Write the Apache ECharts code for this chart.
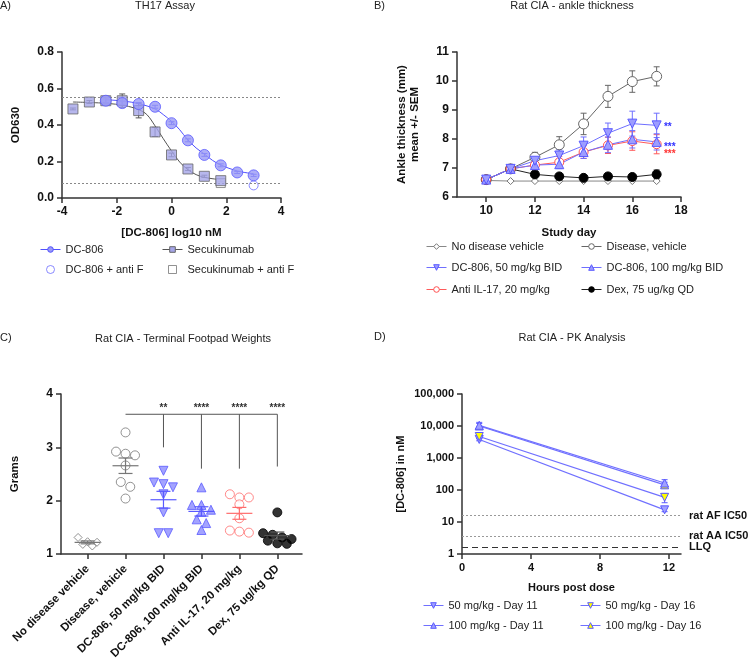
<!DOCTYPE html>
<html><head><meta charset="utf-8">
<script src="https://cdn.jsdelivr.net/npm/echarts@6/dist/echarts.min.js"></script>
<style>html,body{margin:0;padding:0;background:#fff}#c{width:750px;height:665px}</style>
</head><body><div id="c"></div>
<script>
// ---------- Panel A: TH17 Assay ----------
const aDcX = [-2.4,-1.8,-1.2,-0.6,0,0.6,1.2,1.8,2.4,3.0];
const aDcY = [0.533,0.52,0.515,0.50,0.41,0.316,0.236,0.179,0.14,0.124];
const aDcErr = [0.01,0.01,0.008,0.008,0.008,0.008,0.008,0.008,0.006,0.006];
const aSecX = [-3.6,-3.0,-2.4,-1.8,-1.2,-0.6,0,0.6,1.2,1.8];
const aSecY = [0.488,0.526,0.533,0.533,0.479,0.362,0.236,0.159,0.119,0.095];
const aSecErr = [0.005,0.008,0.018,0.037,0.04,0.025,0.01,0.008,0.006,0.006];
const aDcFitX = [-2.4,-1.7,-1.2,-0.6,-0.3,0,0.3,0.57,0.9,1.2,1.5,1.8,2.4,3.0];
const aDcFitY = [0.539,0.53,0.517,0.488,0.457,0.42,0.374,0.323,0.274,0.241,0.206,0.181,0.148,0.133];
const aSecFitX = [-3.6,-2.4,-1.7,-1.2,-0.9,-0.6,-0.3,0,0.3,0.6,0.9,1.2,1.8];
const aSecFitY = [0.526,0.519,0.506,0.484,0.457,0.395,0.325,0.258,0.197,0.155,0.128,0.113,0.1];
const aDcAntiFX = [3.0], aDcAntiFY = [0.069];
const aSecAntiFX = [1.8], aSecAntiFY = [0.082];
const aRefLines = [0.551, 0.077];
const aXTicks = [-4,-2,0,2,4];

// ---------- Panel B: ankle thickness ----------
const bDays = [10,11,12,13,14,15,16,17];
const bNoDis = [6.57,6.55,6.55,6.55,6.55,6.55,6.55,6.55];
const bNoDisErr = [0,0,0,0,0,0,0,0];
const bDis = [6.6,6.97,7.37,7.8,8.52,9.47,9.98,10.16];
const bDisErr = [0,0.05,0.17,0.28,0.37,0.38,0.37,0.33];
const bDc50 = [6.6,6.97,7.25,7.43,7.77,8.2,8.53,8.47];
const bDc50Err = [0,0.05,0.1,0.2,0.3,0.35,0.43,0.42];
const bDc100 = [6.6,6.97,7.1,7.13,7.55,7.8,7.99,7.9];
const bDc100Err = [0,0.05,0.1,0.15,0.22,0.27,0.3,0.28];
const bAnti = [6.6,6.97,7.1,7.2,7.55,7.78,7.93,7.82];
const bAntiErr = [0,0.05,0.1,0.2,0.22,0.28,0.32,0.33];
const bDex = [6.6,6.97,6.78,6.71,6.66,6.71,6.69,6.78];
const bDexErr = [0,0.03,0.05,0.05,0.04,0.05,0.05,0.15];
const bStarText = ['**','***','***'];
const bStarY = [8.42,7.7,7.46];
const bStarColors = ['#3333ff','#3333ff','#ff3333'];
const bStarX = 17.3;
const bXTicks = [10,12,14,16,18];

// ---------- Panel C: footpad weights ----------
const cCats = ['No disease vehicle','Disease, vehicle','DC-806, 50 mg/kg BID','DC-806, 100 mg/kg BID','Anti IL-17, 20 mg/kg','Dex, 75 ug/kg QD'];
const cNoDis = [1.15,1.22,1.23,1.31,1.18];
const cDis = [3.28,2.92,2.88,2.85,2.66,2.35,2.26,2.04];
const cDc50 = [2.56,2.34,2.31,2.25,2.12,1.78,1.39,1.39];
const cDc100 = [2.25,1.92,1.92,1.83,1.79,1.65,1.58,1.45];
const cAnti = [2.12,2.06,2.06,1.93,1.67,1.44,1.42,1.40];
const cDex = [1.78,1.39,1.36,1.31,1.28,1.25,1.20,1.19];
const cSigLabels = ['**','****','****','****'];
const cSigGroups = [2,3,4,5];
const cSigDrop = [3.0,2.6,2.6,2.64];
const cSigTop = 3.62;
const cSigFrom = 1;

// ---------- Panel D: PK ----------
const dHours = [1, 11.75];
const d50Day11 = [3800, 24];   const d50Day11Err = [350, 3];
const d50Day16 = [4700, 59];   const d50Day16Err = [700, 19];
const d100Day11 = [10500, 165]; const d100Day11Err = [2500, 45];
const d100Day16 = [10000, 145]; const d100Day16Err = [2000, 30];
const dRefVals = [15.8, 3.7, 1.6];
const dRefLabels = ['rat AF IC50','rat AA IC50','LLQ'];
const dXTicks = [0,4,8,12];

// ================= rendering =================
const FONT = '"Liberation Sans", Arial, sans-serif';
const AX = '#333';
function axis(o) {
  const base = {
    type:'value', splitLine:{show:false},
    axisLine:{show:true, onZero:false, lineStyle:{color:AX, width:1.5}},
    axisTick:{show:true, length:5, lineStyle:{color:AX, width:1.5}},
    axisLabel:{color:'#111', fontWeight:'bold', fontSize:12, fontFamily:FONT, margin:8},
    nameLocation:'middle',
    nameTextStyle:{color:'#111', fontWeight:'bold', fontSize:11.5, fontFamily:FONT}
  };
  const r = Object.assign({}, base, o);
  ['axisLine','axisTick','axisLabel','nameTextStyle'].forEach(k => { if (o[k]) r[k] = Object.assign({}, base[k], o[k]); });
  return r;
}
function errBars(xi, yi, xs, ys, errs, color, capW, z) {
  return {
    type:'custom', xAxisIndex:xi, yAxisIndex:yi, z:z||2, silent:true, clip:false,
    data: xs.map((x,i)=>[x, ys[i], errs[i]]),
    renderItem: (p, api) => {
      const x = api.value(0), y = api.value(1), e = api.value(2);
      if (!e) return null;
      const t = api.coord([x, y+e]), b = api.coord([x, y-e]);
      const h = capW/2, st = {stroke:color, lineWidth:1};
      return {type:'group', children:[
        {type:'line', shape:{x1:t[0],y1:t[1],x2:b[0],y2:b[1]}, style:st},
        {type:'line', shape:{x1:t[0]-h,y1:t[1],x2:t[0]+h,y2:t[1]}, style:st},
        {type:'line', shape:{x1:b[0]-h,y1:b[1],x2:b[0]+h,y2:b[1]}, style:st}
      ]};
    }
  };
}
function pts(xs, ys) { return xs.map((x,i)=>[x, ys[i]]); }
function swarm(vals, step, thr) {
  const idx = vals.map((v,i)=>i).sort((a,b)=>vals[b]-vals[a]);
  const off = new Array(vals.length).fill(0);
  let row = [];
  const flush = () => { row.forEach((k,j)=>{ off[k] = (j-(row.length-1)/2)*step; }); row = []; };
  idx.forEach(k => { if (row.length && vals[row[0]]-vals[k] > thr) flush(); row.push(k); });
  flush();
  return off;
}
// legend entry: line series (line + small marker)
function legLine(name, left, top, lineColor, fill, border) {
  return {data:[{name:name, itemStyle:{color:fill, borderColor:border, borderWidth:1},
      lineStyle:{color:lineColor, width:1}}],
    left:left, top:top, padding:0, itemWidth:20, itemHeight:7, itemGap:0,
    selectedMode:false, textStyle:{color:'#222', fontSize:11, fontFamily:FONT}};
}
// legend entry: marker only
function legMark(name, left, top, fill, border) {
  return {data:[{name:name, itemStyle:{color:fill, borderColor:border, borderWidth:1}}],
    left:left+6, top:top, padding:0, itemWidth:8, itemHeight:8, itemGap:0,
    selectedMode:false, textStyle:{color:'#222', fontSize:11, fontFamily:FONT, padding:[0,0,0,6]}};
}

const series = [];
// ---- A ----
series.push({type:'line', name:'DC-806', xAxisIndex:0, yAxisIndex:0, data:pts(aDcFitX,aDcFitY), smooth:0.35,
  symbol:'circle', symbolSize:10, showSymbol:false, z:3,
  lineStyle:{color:'#5050ff', width:1}, itemStyle:{color:'#9a9af5', borderColor:'#5050ff', borderWidth:1},
  markLine:{silent:true, symbol:'none', label:{show:false}, animation:false,
    lineStyle:{color:'#888', type:[2,2], width:1}, data:aRefLines.map(v=>({yAxis:v}))}});
series.push({type:'line', name:'Secukinumab', xAxisIndex:0, yAxisIndex:0, data:pts(aSecFitX,aSecFitY), smooth:0.35,
  symbol:'rect', symbolSize:9, showSymbol:false, z:3,
  lineStyle:{color:'#555', width:1}, itemStyle:{color:'#a5a5e8', borderColor:'#666', borderWidth:1}});
series.push(errBars(0,0,aSecX,aSecY,aSecErr,'#555',6,2));
series.push(errBars(0,0,aDcX,aDcY,aDcErr,'#5050ff',6,2));
series.push({type:'scatter', name:'Secukinumab + anti F', xAxisIndex:0, yAxisIndex:0, data:pts(aSecAntiFX,aSecAntiFY),
  symbol:'rect', symbolSize:9, z:4, itemStyle:{color:'#fff', borderColor:'#777', borderWidth:1}});
series.push({type:'scatter', name:'DC-806 + anti F', xAxisIndex:0, yAxisIndex:0, data:pts(aDcAntiFX,aDcAntiFY),
  symbol:'circle', symbolSize:9, z:4, itemStyle:{color:'#fff', borderColor:'#6b6bff', borderWidth:1}});
series.push({type:'scatter', name:'Secukinumab', xAxisIndex:0, yAxisIndex:0, data:pts(aSecX,aSecY),
  symbol:'rect', symbolSize:10, z:5, itemStyle:{color:'#a5a5e8', borderColor:'#666', borderWidth:1}});
series.push({type:'scatter', name:'DC-806', xAxisIndex:0, yAxisIndex:0, data:pts(aDcX,aDcY),
  symbol:'circle', symbolSize:11, z:5, itemStyle:{color:'#9a9af5', borderColor:'#5a5aff', borderWidth:1}});

// ---- B ----
const bDefs = [
  ['No disease vehicle', bNoDis, bNoDisErr, '#888', 'diamond', 0, 7, '#fff', '#777'],
  ['Disease, vehicle', bDis, bDisErr, '#666', 'circle', 0, 10, '#fff', '#666'],
  ['Dex, 75 ug/kg QD', bDex, bDexErr, '#222', 'circle', 0, 9, '#000', '#000'],
  ['Anti IL-17, 20 mg/kg', bAnti, bAntiErr, '#ff5a5a', 'circle', 0, 9, '#fff', '#ff5050'],
  ['DC-806, 100 mg/kg BID', bDc100, bDc100Err, '#6f6fff', 'triangle', 0, 9, '#9d9dff', '#5a5aff'],
  ['DC-806, 50 mg/kg BID', bDc50, bDc50Err, '#6f6fff', 'triangle', 180, 9, '#9d9dff', '#5a5aff']
];
bDefs.forEach(d => {
  series.push(errBars(1,1,bDays,d[1],d[2],d[3],6,2));
  series.push({type:'line', name:d[0], xAxisIndex:1, yAxisIndex:1, data:pts(bDays,d[1]),
    symbol:d[4], symbolRotate:d[5], symbolSize:d[6], showSymbol:true, z:3,
    lineStyle:{color:d[3], width:1}, itemStyle:{color:d[7], borderColor:d[8], borderWidth:1}});
});
series.push({type:'custom', xAxisIndex:1, yAxisIndex:1, silent:true, clip:false, z:6,
  data: bStarY.map((y,i)=>[bStarX, y, i]),
  renderItem: (p, api) => {
    const c = api.coord([api.value(0), api.value(1)]); const i = api.value(2);
    return {type:'text', x:c[0], y:c[1], style:{text:bStarText[i], fill:bStarColors[i],
      font:'bold 10px '+FONT, align:'left', verticalAlign:'middle', textAlign:'left', textVerticalAlign:'middle'}};
  }});

// ---- C ----
const cGroups = [
  [cNoDis, 'diamond', 0, 8, '#fff', '#777', '#777'],
  [cDis, 'circle', 0, 9, '#fff', '#777', '#777'],
  [cDc50, 'triangle', 180, 9, '#8c8cff', '#5a5aff', '#5a5aff'],
  [cDc100, 'triangle', 0, 9, '#8c8cff', '#5a5aff', '#5a5aff'],
  [cAnti, 'circle', 0, 9, '#fff', '#ff6b6b', '#ff6b6b'],
  [cDex, 'circle', 0, 9, '#000', '#000', '#555']
];
const cStats = cGroups.map(g => {
  const v = g[0], n = v.length, m = v.reduce((a,b)=>a+b,0)/n;
  const sd = Math.sqrt(v.reduce((a,b)=>a+(b-m)*(b-m),0)/(n-1));
  return [m, sd/Math.sqrt(n)];
});
cGroups.forEach((g, gi) => {
  const off = swarm(g[0], 0.25, 0.12);
  series.push({type:'scatter', name:cCats[gi], xAxisIndex:2, yAxisIndex:2,
    data: g[0].map((v,i)=>[gi+off[i], v]), symbol:g[1], symbolRotate:g[2], symbolSize:g[3], z:3,
    itemStyle:{color:g[4], borderColor:g[5], borderWidth:1}});
});
series.push({type:'custom', xAxisIndex:2, yAxisIndex:2, silent:true, clip:false, z:4,
  data: cStats.map((s,i)=>[i, s[0], s[1]]),
  renderItem: (p, api) => {
    const i = api.value(0), m = api.value(1), e = api.value(2);
    const c = api.coord([i, m]), t = api.coord([i, m+e]), b = api.coord([i, m-e]);
    const st = {stroke:cGroups[i][6], lineWidth:1.2};
    return {type:'group', children:[
      {type:'line', shape:{x1:c[0]-13,y1:c[1],x2:c[0]+13,y2:c[1]}, style:st},
      {type:'line', shape:{x1:t[0],y1:t[1],x2:b[0],y2:b[1]}, style:st},
      {type:'line', shape:{x1:t[0]-7,y1:t[1],x2:t[0]+7,y2:t[1]}, style:st},
      {type:'line', shape:{x1:b[0]-7,y1:b[1],x2:b[0]+7,y2:b[1]}, style:st}
    ]};
  }});
series.push({type:'custom', xAxisIndex:2, yAxisIndex:2, silent:true, clip:false, z:4,
  data: cSigGroups.map((g,i)=>[g, cSigDrop[i], i]),
  renderItem: (p, api) => {
    const g = api.value(0), drop = api.value(1), i = api.value(2);
    const t = api.coord([g, cSigTop]), b = api.coord([g, drop]);
    const st = {stroke:'#555', lineWidth:1};
    const ch = [
      {type:'line', shape:{x1:t[0],y1:t[1],x2:b[0],y2:b[1]}, style:st},
      {type:'text', x:t[0], y:t[1]-1, style:{text:cSigLabels[i], fill:'#333', font:'bold 10px '+FONT,
        align:'center', verticalAlign:'bottom', textAlign:'center', textVerticalAlign:'bottom'}}
    ];
    if (i === 0) {
      const a = api.coord([cSigFrom, cSigTop]), z = api.coord([cSigGroups[cSigGroups.length-1], cSigTop]);
      ch.push({type:'line', shape:{x1:a[0],y1:a[1],x2:z[0],y2:z[1]}, style:st});
    }
    return {type:'group', children:ch};
  }});

// ---- D ----
const dDefs = [
  ['100 mg/kg - Day 16', d100Day16, d100Day16Err, 'triangle', 0, '#ffff00'],
  ['100 mg/kg - Day 11', d100Day11, d100Day11Err, 'triangle', 0, '#a0a0ff'],
  ['50 mg/kg - Day 11', d50Day11, d50Day11Err, 'triangle', 180, '#a0a0ff'],
  ['50 mg/kg - Day 16', d50Day16, d50Day16Err, 'triangle', 180, '#ffff00']
];
dDefs.forEach((d, k) => {
  series.push(errBars(3,3,dHours,d[1],d[2],'#5a5aff',6,2));
  const s = {type:'line', name:d[0], xAxisIndex:3, yAxisIndex:3, data:pts(dHours,d[1]),
    symbol:d[3], symbolRotate:d[4], symbolSize:8, showSymbol:true, z:3,
    lineStyle:{color:'#7070ff', width:1.2}, itemStyle:{color:d[5], borderColor:'#5a5aff', borderWidth:1}};
  if (k === 0) {
    s.markLine = {silent:true, symbol:'none', animation:false,
      data: dRefVals.map((v,i)=>({yAxis:v, name:dRefLabels[i],
        lineStyle: i < 2 ? {color:'#999', type:[2,2], width:1} : {color:'#333', type:[6,4], width:1.2}})),
      label:{show:true, position:'end', distance:8, formatter:'{b}', color:'#111',
        fontWeight:'bold', fontSize:11, fontFamily:FONT}};
  }
  series.push(s);
});

const option = {
  animation:false,
  backgroundColor:'#fff',
  textStyle:{fontFamily:FONT},
  grid:[
    {left:62, top:52, width:219, height:146, containLabel:false, outerBoundsMode:'none'},
    {left:457, top:52, width:224, height:145, containLabel:false, outerBoundsMode:'none'},
    {left:61, top:394, width:241, height:160, containLabel:false, outerBoundsMode:'none'},
    {left:462, top:394, width:219, height:160, containLabel:false, outerBoundsMode:'none'}
  ],
  xAxis:[
    axis({gridIndex:0, min:-4, max:4, interval:2, name:'[DC-806] log10 nM', nameGap:29,
      axisLabel:{customValues:aXTicks}, axisTick:{customValues:aXTicks}}),
    axis({gridIndex:1, min:8.8, max:18, name:'Study day', nameGap:30,
      axisLabel:{customValues:bXTicks}, axisTick:{customValues:bXTicks}}),
    axis({gridIndex:2, min:-0.7, max:5.65,
      axisLabel:{customValues:[0,1,2,3,4,5], rotate:45, fontSize:11.5, margin:13,
        formatter: v => cCats[Math.round(v)]},
      axisTick:{customValues:[0,1,2,3,4,5]}}),
    axis({gridIndex:3, min:0, max:12.7, name:'Hours post dose', nameGap:28,
      nameTextStyle:{fontSize:11},
      axisLabel:{customValues:dXTicks, fontSize:11}, axisTick:{customValues:dXTicks}})
  ],
  yAxis:[
    axis({gridIndex:0, min:0, max:0.8, interval:0.2, name:'OD630', nameGap:40,
      axisLabel:{formatter: v => v.toFixed(1)}}),
    axis({gridIndex:1, min:6, max:11, interval:1, name:'Ankle thickness (mm)\nmean +/- SEM', nameGap:36,
      nameTextStyle:{lineHeight:13}}),
    axis({gridIndex:2, min:1, max:4, interval:1, name:'Grams', nameGap:40}),
    axis({gridIndex:3, type:'log', logBase:10, min:1, max:100000, name:'[DC-806] in nM', nameGap:56,
      nameTextStyle:{fontSize:11},
      axisLabel:{fontSize:11, formatter: v => Number(v).toLocaleString('en-US')}})
  ],
  legend:[
    legLine('DC-806', 40, 244, '#5050ff', '#9a9af5', '#5050ff'),
    legLine('Secukinumab', 162, 244, '#555', '#a5a5e8', '#666'),
    legMark('DC-806 + anti F', 40, 264, '#fff', '#6b6bff'),
    legMark('Secukinumab + anti F', 162, 264, '#fff', '#777'),
    legLine('No disease vehicle', 426, 241, '#888', '#fff', '#777'),
    legLine('Disease, vehicle', 581, 241, '#666', '#fff', '#666'),
    legLine('DC-806, 50 mg/kg BID', 426, 262, '#6f6fff', '#9d9dff', '#5a5aff'),
    legLine('DC-806, 100 mg/kg BID', 581, 262, '#6f6fff', '#9d9dff', '#5a5aff'),
    legLine('Anti IL-17, 20 mg/kg', 426, 284, '#ff5a5a', '#fff', '#ff5050'),
    legLine('Dex, 75 ug/kg QD', 581, 284, '#222', '#000', '#000'),
    legLine('50 mg/kg - Day 11', 423, 600, '#7070ff', '#a0a0ff', '#5a5aff'),
    legLine('50 mg/kg - Day 16', 580, 600, '#7070ff', '#ffff00', '#5a5aff'),
    legLine('100 mg/kg - Day 11', 423, 620, '#7070ff', '#a0a0ff', '#5a5aff'),
    legLine('100 mg/kg - Day 16', 580, 620, '#7070ff', '#ffff00', '#5a5aff')
  ],
  graphic:[
    {type:'text', left:0, top:0, style:{text:'A)', fill:'#222', font:'11px '+FONT}},
    {type:'text', x:165, y:6, style:{text:'TH17 Assay', fill:'#222', font:'11px '+FONT, textAlign:'center', textVerticalAlign:'middle', align:'center', verticalAlign:'middle'}},
    {type:'text', left:374, top:0, style:{text:'B)', fill:'#222', font:'11px '+FONT}},
    {type:'text', x:572, y:6, style:{text:'Rat CIA - ankle thickness', fill:'#222', font:'11px '+FONT, textAlign:'center', textVerticalAlign:'middle', align:'center', verticalAlign:'middle'}},
    {type:'text', left:0, top:332, style:{text:'C)', fill:'#222', font:'11px '+FONT}},
    {type:'text', x:183, y:339, style:{text:'Rat CIA - Terminal Footpad Weights', fill:'#222', font:'11px '+FONT, textAlign:'center', textVerticalAlign:'middle', align:'center', verticalAlign:'middle'}},
    {type:'text', left:374, top:331, style:{text:'D)', fill:'#222', font:'11px '+FONT}},
    {type:'text', x:572, y:338, style:{text:'Rat CIA - PK Analysis', fill:'#222', font:'11px '+FONT, textAlign:'center', textVerticalAlign:'middle', align:'center', verticalAlign:'middle'}}
  ],
  series: series
};
const chart = echarts.init(document.getElementById('c'));
chart.setOption(option);
</script>
</body></html>
